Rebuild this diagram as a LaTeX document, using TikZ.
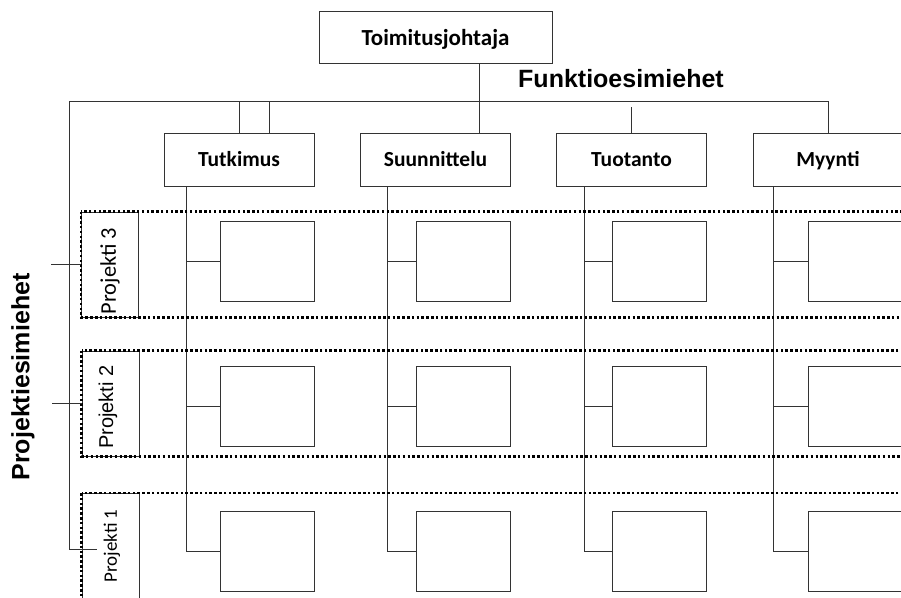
\documentclass[tikz,border=0pt]{standalone}
\usepackage{fontspec}
\setmainfont{Carlito}
\newfontfamily\arialfont{Liberation Sans}

\begin{document}
\begin{tikzpicture}[x=1pt, y=-1pt, line width=1pt]
    \tikzset{
        kasten/.style={draw=black!80, inner sep=0pt, minimum width=150pt, minimum height=53pt, text height=18pt, text depth=5pt, font=\bfseries\fontsize{21.5}{24}\selectfont},
        zelle/.style={draw=black!80, inner sep=0pt, minimum width=94pt, minimum height=80pt},
        projkasten/.style={draw=black!80, inner sep=0pt, minimum width=57pt, minimum height=105pt},
        projekt/.style={draw=black, line width=2.8pt, dash pattern=on 2.5pt off 2.3pt},
        titel/.style={font=\arialfont\bfseries\fontsize{25}{27}\selectfont},
    }
    \useasboundingbox (0,0) rectangle (901,597);
    \clip (0,0) rectangle (901,597);

    % Kaesten.
    \node[kasten, minimum width=233pt, minimum height=52pt, text height=21pt, font=\bfseries\fontsize{23}{26}\selectfont] (ceo) at (435.5,37) {Toimitusjohtaja};
    \foreach \name/\x/\txt in {tut/239/Tutkimus, suu/435.5/Suunnittelu, tuo/631.5/Tuotanto, myy/828/Myynti}
    {
        \node[kasten] (\name) at (\x,159.5) {\txt};
    }
    \foreach \name/\x in {tut/267.5, suu/463.5, tuo/659, myy/855.5}
    {
        \foreach \r/\y in {3/261, 2/406, 1/551}
        {
            \node[zelle] (\name-\r) at (\x,\y) {};
        }
    }

    % Linien oben.
    \coordinate (balken) at (69,101);
    \draw[black!80] ([xshift=43.5pt]suu.north |- ceo.south) -- ([xshift=43.5pt]suu.north);
    \draw[black!80] (balken) -- (balken -| myy.north) -- (myy.north);
    \draw[black!80] (balken -| tut.north) -- (tut.north);
    \draw[black!80] ([xshift=30pt]tut.north |- balken) -- ([xshift=30pt]tut.north);
    \draw[black!80] ([yshift=-6pt]tuo.north |- balken) -- (tuo.north);

    % Linien der Funktionen.
    \foreach \name/\dx in {tut/23, suu/27, tuo/28, myy/21}
    {
        \coordinate (\name-v) at ([xshift=\dx pt]\name.south west);
        \draw[black!80] (\name-v) |- (\name-1.west);
        \draw[black!80] (\name-v |- \name-3.west) -- (\name-3.west);
        \draw[black!80] (\name-v |- \name-2.west) -- (\name-2.west);
    }

    % Projekte.
    \node[projkasten] (p3) at (110,264.5) {};
    \node[projkasten] (p2) at (110.5,403.5) {};
    \node[projkasten] (p1) at (110.5,546) {};
    \node[rotate=90, font=\fontsize{22.4}{24}\selectfont] (p3-text) at (110,271) {Projekti 3};
    \node[rotate=90, font=\arialfont\fontsize{20}{22}\selectfont] (p2-text) at (108,407) {Projekti 2};
    \node[rotate=90, font=\fontsize{19}{21}\selectfont] (p1-text) at (112,546) {Projekti 1};
    \foreach \p in {p3, p2, p1}
    {
        \draw[projekt] (\p.north west) rectangle ([xshift=840pt]\p.south west);
    }

    % Linien links.
    \coordinate (p1-ende) at (97,549);
    \draw[black!80] (balken) |- (p1-ende);
    \draw[black!80] (p3.west) -- ++(-30,0);
    \draw[black!80] (p2.west) -- ++(-30,0);

    % Beschriftung.
    \node[titel] (funktio) at (621,79) {Funktioesimiehet};
    \node[titel, rotate=90] (projekti) at (23,377) {Projektiesimiehet};
\end{tikzpicture}
\end{document}
